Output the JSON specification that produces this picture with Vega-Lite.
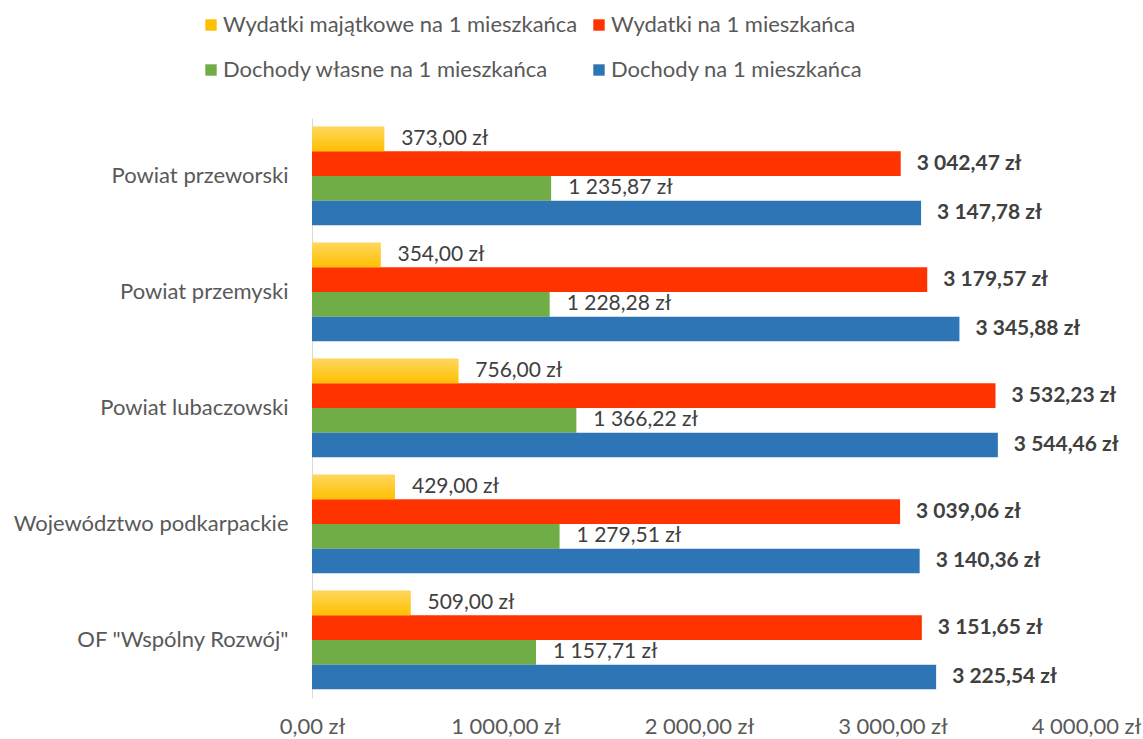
{
  "$schema": "https://vega.github.io/schema/vega-lite/v6.json",
  "width": 774,
  "height": 580,
  "autosize": {"type": "none"},
  "padding": {"left": 312, "top": 118, "right": 57, "bottom": 41},
  "background": "white",
  "config": {
    "font": "Lato",
    "view": {"stroke": null},
    "locale": {
      "number": {"decimal": ",", "thousands": " ", "grouping": [3], "currency": ["", " zł"]}
    }
  },
  "data": {
    "values": [
      {"area": "Powiat przeworski", "series": "Wydatki majątkowe na 1 mieszkańca", "value": 373.00},
      {"area": "Powiat przeworski", "series": "Wydatki na 1 mieszkańca", "value": 3042.47},
      {"area": "Powiat przeworski", "series": "Dochody własne na 1 mieszkańca", "value": 1235.87},
      {"area": "Powiat przeworski", "series": "Dochody na 1 mieszkańca", "value": 3147.78},
      {"area": "Powiat przemyski", "series": "Wydatki majątkowe na 1 mieszkańca", "value": 354.00},
      {"area": "Powiat przemyski", "series": "Wydatki na 1 mieszkańca", "value": 3179.57},
      {"area": "Powiat przemyski", "series": "Dochody własne na 1 mieszkańca", "value": 1228.28},
      {"area": "Powiat przemyski", "series": "Dochody na 1 mieszkańca", "value": 3345.88},
      {"area": "Powiat lubaczowski", "series": "Wydatki majątkowe na 1 mieszkańca", "value": 756.00},
      {"area": "Powiat lubaczowski", "series": "Wydatki na 1 mieszkańca", "value": 3532.23},
      {"area": "Powiat lubaczowski", "series": "Dochody własne na 1 mieszkańca", "value": 1366.22},
      {"area": "Powiat lubaczowski", "series": "Dochody na 1 mieszkańca", "value": 3544.46},
      {"area": "Województwo podkarpackie", "series": "Wydatki majątkowe na 1 mieszkańca", "value": 429.00},
      {"area": "Województwo podkarpackie", "series": "Wydatki na 1 mieszkańca", "value": 3039.06},
      {"area": "Województwo podkarpackie", "series": "Dochody własne na 1 mieszkańca", "value": 1279.51},
      {"area": "Województwo podkarpackie", "series": "Dochody na 1 mieszkańca", "value": 3140.36},
      {"area": "OF \"Wspólny Rozwój\"", "series": "Wydatki majątkowe na 1 mieszkańca", "value": 509.00},
      {"area": "OF \"Wspólny Rozwój\"", "series": "Wydatki na 1 mieszkańca", "value": 3151.65},
      {"area": "OF \"Wspólny Rozwój\"", "series": "Dochody własne na 1 mieszkańca", "value": 1157.71},
      {"area": "OF \"Wspólny Rozwój\"", "series": "Dochody na 1 mieszkańca", "value": 3225.54}
    ]
  },
  "encoding": {
    "y": {
      "field": "area",
      "type": "nominal",
      "sort": null,
      "title": null,
      "scale": {"paddingInner": 0.15, "paddingOuter": 0.075},
      "axis": {
        "ticks": false,
        "domainColor": "#D9D9D9",
        "domainWidth": 1,
        "labelFontSize": 22,
        "labelColor": "#595959",
        "labelPadding": 24,
        "labelLimit": 400
      }
    },
    "x": {
      "field": "value",
      "type": "quantitative",
      "title": null,
      "scale": {"domain": [0, 4000], "nice": false},
      "axis": {
        "values": [0, 1000, 2000, 3000, 4000],
        "format": "$,.2f",
        "grid": false,
        "ticks": false,
        "domain": false,
        "labelFontSize": 22,
        "labelColor": "#595959",
        "labelPadding": 18,
        "labelFlush": false
      }
    },
    "yOffset": {
      "field": "series",
      "type": "nominal",
      "sort": ["Wydatki majątkowe na 1 mieszkańca", "Wydatki na 1 mieszkańca", "Dochody własne na 1 mieszkańca", "Dochody na 1 mieszkańca"],
      "scale": {"paddingInner": 0, "paddingOuter": 0}
    }
  },
  "layer": [
    {
      "mark": {"type": "bar"},
      "encoding": {
        "color": {
          "field": "series",
          "type": "nominal",
          "sort": ["Wydatki majątkowe na 1 mieszkańca", "Wydatki na 1 mieszkańca", "Dochody własne na 1 mieszkańca", "Dochody na 1 mieszkańca"],
          "scale": {
            "domain": ["Wydatki majątkowe na 1 mieszkańca", "Wydatki na 1 mieszkańca", "Dochody własne na 1 mieszkańca", "Dochody na 1 mieszkańca"],
            "range": ["#FFC000", "#FF3300", "#70AD47", "#2E75B6"]
          },
          "legend": {
            "title": null,
            "orient": "none",
            "legendX": -112,
            "legendY": -104,
            "columns": 2,
            "direction": "horizontal",
            "columnPadding": 10,
            "rowPadding": 23,
            "symbolType": "square",
            "symbolSize": 130,
            "symbolStrokeWidth": 0,
            "labelFontSize": 22,
            "labelColor": "#595959",
            "labelOffset": 1,
            "labelLimit": 500
          }
        }
      }
    },
    {
      "transform": [{"filter": "datum.series === 'Wydatki majątkowe na 1 mieszkańca'"}],
      "mark": {
        "type": "bar",
        "color": {
          "gradient": "linear", "x1": 0, "y1": 0, "x2": 0, "y2": 1,
          "stops": [{"offset": 0, "color": "#FFD75E"}, {"offset": 1, "color": "#FFC000"}]
        }
      }
    },
    {
      "transform": [{"filter": "datum.series === 'Wydatki majątkowe na 1 mieszkańca' || datum.series === 'Dochody własne na 1 mieszkańca'"}],
      "mark": {"type": "text", "align": "left", "baseline": "middle", "dx": 17, "fontSize": 21, "color": "#404040"},
      "encoding": {"text": {"field": "value", "type": "quantitative", "format": "$,.2f"}}
    },
    {
      "transform": [{"filter": "datum.series === 'Wydatki na 1 mieszkańca' || datum.series === 'Dochody na 1 mieszkańca'"}],
      "mark": {"type": "text", "align": "left", "baseline": "middle", "dx": 16, "fontSize": 21, "fontWeight": "bold", "color": "#404040"},
      "encoding": {"text": {"field": "value", "type": "quantitative", "format": "$,.2f"}}
    }
  ]
}
